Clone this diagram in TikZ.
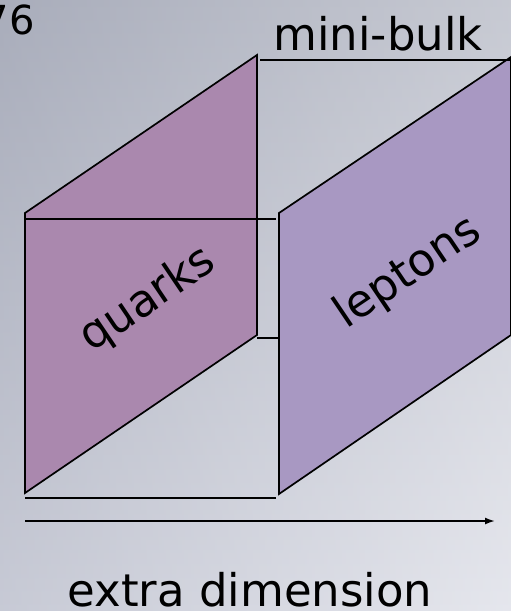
\documentclass[tikz,border=0pt]{standalone}
\usepackage{fontspec}
\setmainfont{DejaVu Sans}
\usetikzlibrary{arrows.meta}
\definecolor{bgtop}{HTML}{A9ADBB}
\definecolor{bgbot}{HTML}{D8DAE4}
\definecolor{quarkfill}{HTML}{AA88AE}
\definecolor{leptonfill}{HTML}{A898C2}
\tikzset{
  plane/.style={draw=black, line width=1.7pt, line join=miter},
  edge/.style={draw=black, line width=1.7pt},
  lbl/.style={font=\fontsize{45}{54}\selectfont, inner sep=0pt, text=black},
}
\begin{document}
\begin{tikzpicture}[x=1pt,y=-1pt]
\useasboundingbox (0,0) rectangle (511,611);
% background
\shade[top color=bgtop, bottom color=bgbot] (0,0) rectangle (511,611);
\shade[left color=bgtop, right color=white, opacity=0.35] (0,0) rectangle (511,611);
% corners
\coordinate (qtl) at (25,213);
\coordinate (qtr) at (257,55);
\coordinate (qbr) at (257,335);
\coordinate (qbl) at (25,493);
\coordinate (ltl) at (279,213);
\coordinate (ltr) at (511,57);
\coordinate (lbr) at (511,335);
\coordinate (lbl) at (279,494);
% bulk edges
\coordinate (t1) at (260,60);
\coordinate (t2) at (511,60);
\coordinate (m1) at (25,219);
\coordinate (m2) at (276,219);
\coordinate (s1) at (257,338);
\coordinate (s2) at (279,338);
\coordinate (b1) at (25,498);
\coordinate (b2) at (276,498);
\coordinate (a1) at (25,521);
\coordinate (a2) at (495,521);
% planes
\path[plane, fill=quarkfill] (qtl) -- (qtr) -- (qbr) -- (qbl) -- cycle;
\path[plane, fill=leptonfill] (ltl) -- (ltr) -- (lbr) -- (lbl) -- cycle;
\draw[edge] (t1) -- (t2);
\draw[edge] (m1) -- (m2);
\draw[edge] (s1) -- (s2);
\draw[edge] (b1) -- (b2);
\draw[edge, -{Latex[length=10pt,width=7pt]}] (a1) -- (a2);
% labels
\node[lbl, anchor=base] (mb) at (378,50) {mini-bulk};
\node[lbl, anchor=base] (ed) at (250,606) {extra dimension};
\node[lbl, rotate=34] (qk) at (148,300) {quarks};
\node[lbl, rotate=34] (lp) at (408,273) {leptons};
\node[lbl, anchor=base east, font=\fontsize{40}{48}\selectfont] (num) at (35,34) {76};
\end{tikzpicture}
\end{document}
